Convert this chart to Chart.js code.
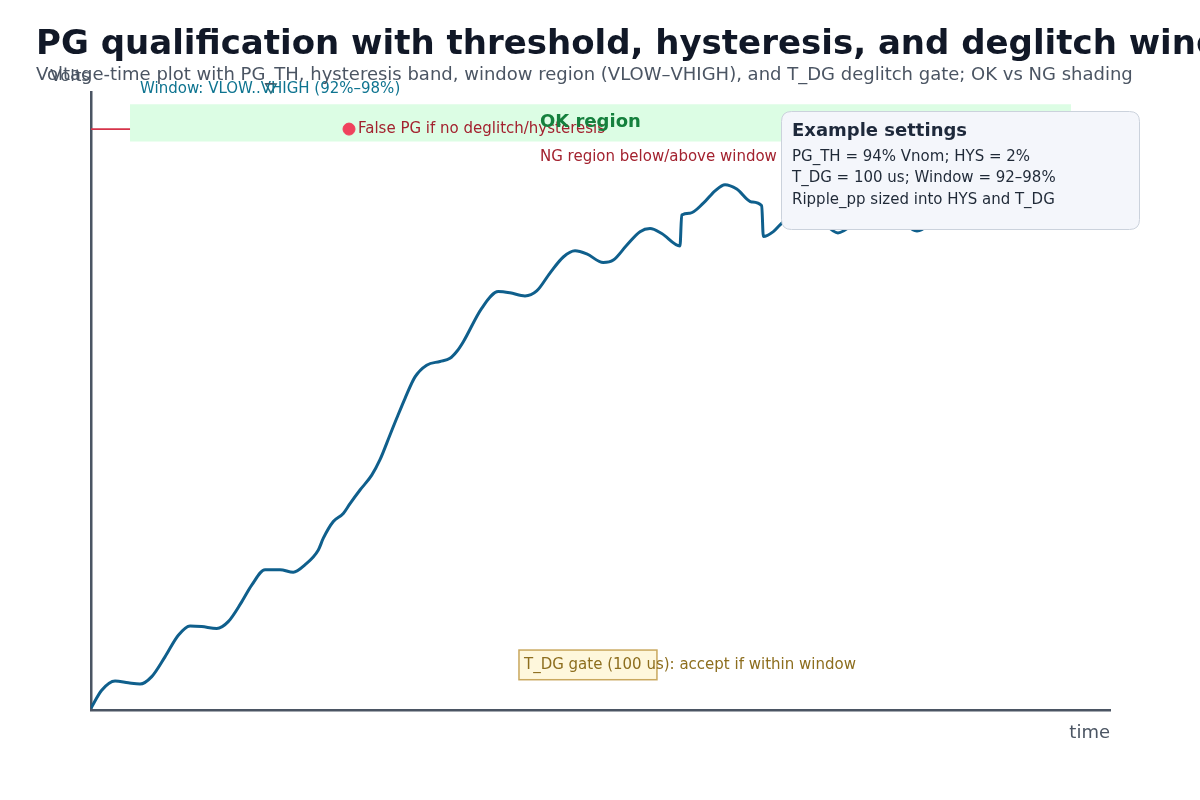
<!DOCTYPE html>
<html>
<head>
<meta charset="utf-8">
<script src="https://cdn.jsdelivr.net/npm/chart.js@4.4.1/dist/chart.umd.min.js"></script>
<style>
  html, body { margin: 0; padding: 0; background: #ffffff; }
  #wrap { width: 1200px; height: 800px; position: relative; }
</style>
</head>
<body>
<div id="wrap"><canvas id="pgChart" width="1200" height="800"></canvas></div>
<script>
// time axis in arbitrary units (0..1000), volts in per-unit of Vnom
const timeSamples = [0, 10.5, 23.6, 36.6, 48.1, 59.6, 72.6, 85.7, 97.2, 108.6, 123.4, 134.7, 147.9, 157.7,
    170.8, 185.5, 198.5, 210.0, 223.1, 228.0, 237.8, 247.6, 254.2, 264.0, 275.5, 283.6, 293.4, 300.0,
    308.1, 318.0, 329.4, 342.5, 352.3, 358.9, 365.4, 383.4, 399.7, 411.2, 425.9, 437.4, 450.4, 463.5,
    475.0, 486.5, 502.7, 512.6, 525.7, 538.8, 548.6, 560.1, 578.0, 579.7, 587.8, 600.9, 612.4, 622.2,
    633.7, 648.4, 658.2, 659.8, 669.6, 676.2, 695.8, 715.0, 733.0, 752.0, 772.3, 792.0, 810.6, 830.0,
    849.9, 868.0, 887.1, 906.0, 926.4, 945.0, 963.7, 982.0, 1000];
const voltSamples = [0.003, 0.032, 0.047, 0.044, 0.042, 0.054, 0.086, 0.121, 0.136, 0.135, 0.132, 0.143, 0.175, 0.202,
    0.227, 0.227, 0.223, 0.235, 0.259, 0.278, 0.305, 0.318, 0.334, 0.356, 0.380, 0.405, 0.445, 0.472,
    0.504, 0.539, 0.558, 0.564, 0.569, 0.580, 0.596, 0.650, 0.677, 0.675, 0.670, 0.678, 0.707, 0.733,
    0.743, 0.738, 0.724, 0.728, 0.752, 0.774, 0.779, 0.771, 0.751, 0.801, 0.804, 0.820, 0.840, 0.850,
    0.843, 0.822, 0.816, 0.766, 0.774, 0.785, 0.812, 0.795, 0.772, 0.792, 0.815, 0.797, 0.775, 0.796,
    0.818, 0.802, 0.785, 0.802, 0.820, 0.805, 0.788, 0.800, 0.815];

const PG_TH = 0.94;
const VLOW = 0.92;
const VHIGH = 0.98;
const windowSpan = [38.3, 961.7];          // shaded window region along time
const falsePgPoint = [253.2, 0.94];
const windowMarker = [176.6, 1.008];
const gateSpan = [420.0, 555.4];           // T_DG gate along time
const gateLevels = [0.049, 0.097];

const settingsLines = ['PG_TH = 94% Vnom; HYS = 2%', 'T_DG = 100 us; Window = 92\u201398%', 'Ripple_pp sized into HYS and T_DG'];

const FONT = '"DejaVu Sans", "Noto Sans", sans-serif';

function roundRect(ctx, x, y, w, h, r) {
    ctx.beginPath();
    ctx.moveTo(x + r, y);
    ctx.lineTo(x + w - r, y);
    ctx.quadraticCurveTo(x + w, y, x + w, y + r);
    ctx.lineTo(x + w, y + h - r);
    ctx.quadraticCurveTo(x + w, y + h, x + w - r, y + h);
    ctx.lineTo(x + r, y + h);
    ctx.quadraticCurveTo(x, y + h, x, y + h - r);
    ctx.lineTo(x, y + r);
    ctx.quadraticCurveTo(x, y, x + r, y);
    ctx.closePath();
}

const decorPlugin = {
    id: 'decor',
    afterDatasetsDraw(chart) {
        const ctx = chart.ctx;
        const xs = chart.scales.x, ys = chart.scales.y;
        ctx.save();
        ctx.textBaseline = 'middle';

        // T_DG gate box
        const gx0 = xs.getPixelForValue(gateSpan[0]), gx1 = xs.getPixelForValue(gateSpan[1]);
        const gy0 = ys.getPixelForValue(gateLevels[1]), gy1 = ys.getPixelForValue(gateLevels[0]);
        ctx.fillStyle = '#fef7dc';
        ctx.fillRect(gx0, gy0, gx1 - gx0, gy1 - gy0);
        ctx.strokeStyle = '#c9a85e';
        ctx.lineWidth = 1.5;
        ctx.strokeRect(gx0, gy0, gx1 - gx0, gy1 - gy0);
        ctx.fillStyle = '#8d6e1e';
        ctx.font = '15px ' + FONT;
        ctx.fillText('T_DG gate (100 us): accept if within window', gx0 + 5, (gy0 + gy1) / 2);

        // labels tied to the window band
        const wx = xs.getPixelForValue(windowSpan[0]);
        ctx.fillStyle = '#0e7490';
        ctx.font = '15px ' + FONT;
        ctx.fillText('Window: VLOW..VHIGH (92%\u201398%)', wx + 10, ys.getPixelForValue(VHIGH) - 15);

        ctx.fillStyle = '#a3222f';
        ctx.fillText('False PG if no deglitch/hysteresis', xs.getPixelForValue(falsePgPoint[0]) + 9, ys.getPixelForValue(falsePgPoint[1]));

        const okX = xs.getPixelForValue(440.6);
        ctx.fillStyle = '#15803d';
        ctx.font = 'bold 18px ' + FONT;
        ctx.fillText('OK region', okX, ys.getPixelForValue((VLOW + VHIGH) / 2) - 1);
        ctx.fillStyle = '#a3222f';
        ctx.font = '15px ' + FONT;
        ctx.fillText('NG region below/above window', okX, ys.getPixelForValue(VLOW) + 16);

        // settings box
        roundRect(ctx, 781.5, 111.5, 358, 118, 10);
        ctx.fillStyle = '#f4f6fb';
        ctx.fill();
        ctx.strokeStyle = '#cbd2dc';
        ctx.lineWidth = 1;
        ctx.stroke();
        ctx.fillStyle = '#1e293b';
        ctx.font = 'bold 18px ' + FONT;
        ctx.fillText('Example settings', 792, 131);
        ctx.fillStyle = '#1f2937';
        ctx.font = '15px ' + FONT;
        settingsLines.forEach(function (line, i) {
            ctx.fillText(line, 792, 157 + i * 21.5);
        });

        // titles and axis names
        ctx.fillStyle = '#4b5563';
        ctx.font = '18px ' + FONT;
        ctx.fillText('Voltage-time plot with PG_TH, hysteresis band, window region (VLOW\u2013VHIGH), and T_DG deglitch gate; OK vs NG shading', 36, 75);
        ctx.font = '16.5px ' + FONT;
        ctx.textAlign = 'right';
        ctx.fillText('Volts', chart.chartArea.left - 1, 77);
        ctx.font = '18px ' + FONT;
        ctx.fillText('time', chart.chartArea.right, 733);
        ctx.textAlign = 'left';
        ctx.fillStyle = '#111827';
        ctx.font = 'bold 34px ' + FONT;
        ctx.fillText('PG qualification with threshold, hysteresis, and deglitch window', 36, 45);
        ctx.restore();
    }
};

const ctx = document.getElementById('pgChart');
const pgChart = new Chart(ctx, {
    type: 'line',
    data: {
        datasets: [
            {
                label: 'PG_TH',
                data: [{ x: 0, y: PG_TH }, { x: 1000, y: PG_TH }],
                borderColor: '#d6334a',
                borderWidth: 1.8,
                pointRadius: 0,
                order: 10
            },
            {
                label: 'VLOW',
                data: [{ x: windowSpan[0], y: VLOW }, { x: windowSpan[1], y: VLOW }],
                borderWidth: 0,
                borderColor: 'rgba(0,0,0,0)',
                pointRadius: 0,
                order: 9
            },
            {
                label: 'VHIGH',
                data: [{ x: windowSpan[0], y: VHIGH }, { x: windowSpan[1], y: VHIGH }],
                borderWidth: 0,
                borderColor: 'rgba(0,0,0,0)',
                backgroundColor: '#dcfde4',
                fill: '-1',
                pointRadius: 0,
                order: 8
            },
            {
                label: 'Vout',
                data: timeSamples.map((t, i) => ({ x: t, y: voltSamples[i] })),
                borderColor: '#0f5f8c',
                borderWidth: 3,
                pointRadius: 0,
                cubicInterpolationMode: 'monotone',
                order: 2
            },
            {
                label: 'False PG',
                type: 'scatter',
                data: [{ x: falsePgPoint[0], y: falsePgPoint[1] }],
                backgroundColor: '#f0415d',
                borderColor: '#f0415d',
                pointRadius: 6,
                order: 1
            },
            {
                label: 'Window marker',
                type: 'scatter',
                data: [{ x: windowMarker[0], y: windowMarker[1] }],
                pointStyle: 'triangle',
                rotation: 180,
                backgroundColor: 'rgba(0,0,0,0)',
                borderColor: '#2a6f7f',
                borderWidth: 1.5,
                pointRadius: 6,
                clip: false,
                order: 1
            }
        ]
    },
    options: {
        responsive: false,
        animation: false,
        layout: {
            padding: { left: 83, right: 90, top: 92, bottom: 82 }
        },
        plugins: {
            legend: { display: false },
            tooltip: { enabled: false },
            title: { display: false }
        },
        scales: {
            x: {
                type: 'linear',
                min: 0,
                max: 1000,
                ticks: { display: false },
                grid: { display: false },
                border: { display: true, color: '#4b5563', width: 2.5 }
            },
            y: {
                type: 'linear',
                min: 0,
                max: 1,
                ticks: { display: false },
                grid: { display: false },
                border: { display: true, color: '#4b5563', width: 2.5 }
            }
        }
    },
    plugins: [decorPlugin]
});
</script>
</body>
</html>
